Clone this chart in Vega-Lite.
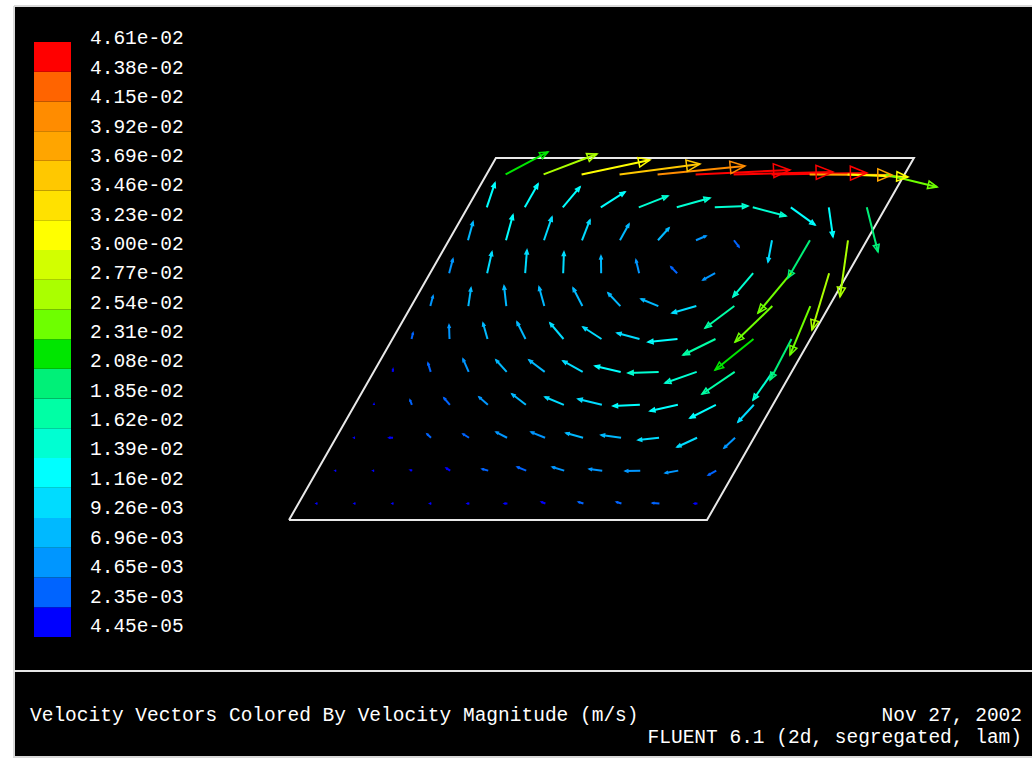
{
  "$schema": "https://vega.github.io/schema/vega-lite/v6.json",
  "width": 1018,
  "height": 752,
  "autosize": {"type": "none"},
  "padding": {"left": 14, "top": 6, "right": 0, "bottom": 1},
  "background": "#ffffff",
  "config": {"view": {"stroke": null, "fill": "#000000"}},
  "datasets": {
    "cavity": [
      {"cx": 0, "cy": 0, "k": 0},
      {"cx": 1, "cy": 0, "k": 1},
      {"cx": 1.495, "cy": 0.866, "k": 2},
      {"cx": 0.495, "cy": 0.866, "k": 3},
      {"cx": 0, "cy": 0, "k": 4}
    ],
    "bins": [
      {"lo":0.0000445,"hi":0.00235,"mid":0.0012},
      {"lo":0.00235,"hi":0.00465,"mid":0.0035},
      {"lo":0.00465,"hi":0.00696,"mid":0.0058},
      {"lo":0.00696,"hi":0.00926,"mid":0.0081},
      {"lo":0.00926,"hi":0.0116,"mid":0.0104},
      {"lo":0.0116,"hi":0.0139,"mid":0.0127},
      {"lo":0.0139,"hi":0.0162,"mid":0.0150},
      {"lo":0.0162,"hi":0.0185,"mid":0.0173},
      {"lo":0.0185,"hi":0.0208,"mid":0.0196},
      {"lo":0.0208,"hi":0.0231,"mid":0.0219},
      {"lo":0.0231,"hi":0.0254,"mid":0.0242},
      {"lo":0.0254,"hi":0.0277,"mid":0.0265},
      {"lo":0.0277,"hi":0.0300,"mid":0.0288},
      {"lo":0.0300,"hi":0.0323,"mid":0.0311},
      {"lo":0.0323,"hi":0.0346,"mid":0.0334},
      {"lo":0.0346,"hi":0.0369,"mid":0.0357},
      {"lo":0.0369,"hi":0.0392,"mid":0.0380},
      {"lo":0.0392,"hi":0.0415,"mid":0.0403},
      {"lo":0.0415,"hi":0.0438,"mid":0.0426},
      {"lo":0.0438,"hi":0.0461,"mid":0.0449}
    ],
    "ticks": [
      {"v":0.0000445,"lab":"4.45e-05"},
      {"v":0.00235,"lab":"2.35e-03"},
      {"v":0.00465,"lab":"4.65e-03"},
      {"v":0.00696,"lab":"6.96e-03"},
      {"v":0.00926,"lab":"9.26e-03"},
      {"v":0.0116,"lab":"1.16e-02"},
      {"v":0.0139,"lab":"1.39e-02"},
      {"v":0.0162,"lab":"1.62e-02"},
      {"v":0.0185,"lab":"1.85e-02"},
      {"v":0.0208,"lab":"2.08e-02"},
      {"v":0.0231,"lab":"2.31e-02"},
      {"v":0.0254,"lab":"2.54e-02"},
      {"v":0.0277,"lab":"2.77e-02"},
      {"v":0.0300,"lab":"3.00e-02"},
      {"v":0.0323,"lab":"3.23e-02"},
      {"v":0.0346,"lab":"3.46e-02"},
      {"v":0.0369,"lab":"3.69e-02"},
      {"v":0.0392,"lab":"3.92e-02"},
      {"v":0.0415,"lab":"4.15e-02"},
      {"v":0.0438,"lab":"4.38e-02"},
      {"v":0.0461,"lab":"4.61e-02"}
    ],
    "vectors": [
      {"x":0.5182,"y":0.8267,"hx":0.6196,"hy":0.8805,"mag":0.0220,"ang":-27.9},
      {"x":0.6091,"y":0.8267,"hx":0.7368,"hy":0.8757,"mag":0.0265,"ang":-21.0},
      {"x":0.7000,"y":0.8267,"hx":0.8636,"hy":0.8614,"mag":0.0310,"ang":-12.0},
      {"x":0.7909,"y":0.8267,"hx":0.9832,"hy":0.8518,"mag":0.0365,"ang":-7.4},
      {"x":0.8818,"y":0.8267,"hx":1.0909,"hy":0.8470,"mag":0.0400,"ang":-5.6},
      {"x":0.9728,"y":0.8267,"hx":1.1986,"hy":0.8375,"mag":0.0445,"ang":-2.7},
      {"x":1.0637,"y":0.8267,"hx":1.3015,"hy":0.8327,"mag":0.0458,"ang":-1.4},
      {"x":1.1546,"y":0.8267,"hx":1.3828,"hy":0.8303,"mag":0.0450,"ang":-0.9},
      {"x":1.2455,"y":0.8267,"hx":1.4426,"hy":0.8255,"mag":0.0385,"ang":0.3},
      {"x":1.3364,"y":0.8267,"hx":1.4809,"hy":0.8207,"mag":0.0305,"ang":2.4},
      {"x":1.4273,"y":0.8267,"hx":1.5503,"hy":0.7968,"mag":0.0245,"ang":13.7},

      {"x":0.4732,"y":0.7480,"hx":0.4928,"hy":0.8064,"mag":0.0117,"ang":-71.4},
      {"x":0.5641,"y":0.7480,"hx":0.5957,"hy":0.8040,"mag":0.0122,"ang":-60.6},
      {"x":0.6550,"y":0.7480,"hx":0.6961,"hy":0.7968,"mag":0.0121,"ang":-49.9},
      {"x":0.7459,"y":0.7480,"hx":0.8038,"hy":0.7848,"mag":0.0130,"ang":-32.5},
      {"x":0.8368,"y":0.7480,"hx":0.9066,"hy":0.7753,"mag":0.0142,"ang":-21.3},
      {"x":0.9277,"y":0.7480,"hx":1.0071,"hy":0.7705,"mag":0.0157,"ang":-15.8},
      {"x":1.0186,"y":0.7480,"hx":1.0980,"hy":0.7513,"mag":0.0151,"ang":-2.4},
      {"x":1.1095,"y":0.7480,"hx":1.1889,"hy":0.7274,"mag":0.0156,"ang":14.5},
      {"x":1.2005,"y":0.7480,"hx":1.2584,"hy":0.7059,"mag":0.0136,"ang":36.0},
      {"x":1.2914,"y":0.7480,"hx":1.3014,"hy":0.6772,"mag":0.0136,"ang":81.9},
      {"x":1.3823,"y":0.7480,"hx":1.4091,"hy":0.6413,"mag":0.0195,"ang":75.9},

      {"x":0.4282,"y":0.6692,"hx":0.4402,"hy":0.7130,"mag":0.0086,"ang":-74.7},
      {"x":0.5191,"y":0.6692,"hx":0.5358,"hy":0.7297,"mag":0.0120,"ang":-74.5},
      {"x":0.6100,"y":0.6692,"hx":0.6291,"hy":0.7249,"mag":0.0112,"ang":-71.1},
      {"x":0.7009,"y":0.6692,"hx":0.7200,"hy":0.7178,"mag":0.0099,"ang":-68.5},
      {"x":0.7918,"y":0.6692,"hx":0.8133,"hy":0.7082,"mag":0.0085,"ang":-61.1},
      {"x":0.8827,"y":0.6692,"hx":0.9090,"hy":0.6986,"mag":0.0075,"ang":-48.2},
      {"x":0.9736,"y":0.6692,"hx":0.9975,"hy":0.6795,"mag":0.0050,"ang":-23.3},
      {"x":1.0645,"y":0.6692,"hx":1.0765,"hy":0.6532,"mag":0.0038,"ang":53.3},
      {"x":1.1554,"y":0.6692,"hx":1.1458,"hy":0.6173,"mag":0.0100,"ang":100.4},
      {"x":1.2463,"y":0.6692,"hx":1.1937,"hy":0.5790,"mag":0.0198,"ang":120.3},
      {"x":1.3373,"y":0.6692,"hx":1.3182,"hy":0.5336,"mag":0.0260,"ang":98.0},

      {"x":0.3831,"y":0.5905,"hx":0.3922,"hy":0.6245,"mag":0.0067,"ang":-75.0},
      {"x":0.4740,"y":0.5905,"hx":0.4855,"hy":0.6412,"mag":0.0099,"ang":-77.2},
      {"x":0.5650,"y":0.5905,"hx":0.5693,"hy":0.6460,"mag":0.0106,"ang":-85.6},
      {"x":0.6559,"y":0.5905,"hx":0.6578,"hy":0.6412,"mag":0.0096,"ang":-87.8},
      {"x":0.7468,"y":0.5905,"hx":0.7463,"hy":0.6316,"mag":0.0078,"ang":-90.7},
      {"x":0.8377,"y":0.5905,"hx":0.8300,"hy":0.6221,"mag":0.0062,"ang":-103.6},
      {"x":0.9286,"y":0.5905,"hx":0.9138,"hy":0.6053,"mag":0.0040,"ang":-135.0},
      {"x":1.0195,"y":0.5905,"hx":0.9903,"hy":0.5742,"mag":0.0064,"ang":150.9},
      {"x":1.1104,"y":0.5905,"hx":1.0621,"hy":0.5336,"mag":0.0142,"ang":130.3},
      {"x":1.2013,"y":0.5905,"hx":1.1219,"hy":0.4953,"mag":0.0235,"ang":129.8},
      {"x":1.2922,"y":0.5905,"hx":1.2511,"hy":0.4546,"mag":0.0270,"ang":106.8},

      {"x":0.3381,"y":0.5118,"hx":0.3446,"hy":0.5360,"mag":0.0048,"ang":-75.0},
      {"x":0.4290,"y":0.5118,"hx":0.4355,"hy":0.5551,"mag":0.0083,"ang":-81.5},
      {"x":0.5199,"y":0.5118,"hx":0.5144,"hy":0.5599,"mag":0.0092,"ang":-96.5},
      {"x":0.6108,"y":0.5118,"hx":0.5981,"hy":0.5575,"mag":0.0090,"ang":-105.5},
      {"x":0.7018,"y":0.5118,"hx":0.6796,"hy":0.5551,"mag":0.0092,"ang":-117.2},
      {"x":0.7927,"y":0.5118,"hx":0.7633,"hy":0.5431,"mag":0.0082,"ang":-133.2},
      {"x":0.8836,"y":0.5118,"hx":0.8422,"hy":0.5288,"mag":0.0085,"ang":-157.7},
      {"x":0.9745,"y":0.5118,"hx":0.9164,"hy":0.4953,"mag":0.0115,"ang":164.1},
      {"x":1.0654,"y":0.5118,"hx":0.9953,"hy":0.4594,"mag":0.0166,"ang":143.2},
      {"x":1.1563,"y":0.5118,"hx":1.0671,"hy":0.4259,"mag":0.0235,"ang":136.1},
      {"x":1.2472,"y":0.5118,"hx":1.1986,"hy":0.3948,"mag":0.0240,"ang":112.5},

      {"x":0.2931,"y":0.4330,"hx":0.2967,"hy":0.4474,"mag":0.0028,"ang":-76.0},
      {"x":0.3840,"y":0.4330,"hx":0.3828,"hy":0.4665,"mag":0.0064,"ang":-92.0},
      {"x":0.4749,"y":0.4330,"hx":0.4641,"hy":0.4713,"mag":0.0075,"ang":-105.7},
      {"x":0.5658,"y":0.4330,"hx":0.5455,"hy":0.4737,"mag":0.0086,"ang":-116.6},
      {"x":0.6567,"y":0.4330,"hx":0.6244,"hy":0.4713,"mag":0.0095,"ang":-130.2},
      {"x":0.7476,"y":0.4330,"hx":0.7033,"hy":0.4617,"mag":0.0100,"ang":-147.0},
      {"x":0.8385,"y":0.4330,"hx":0.7847,"hy":0.4474,"mag":0.0106,"ang":-165.1},
      {"x":0.9294,"y":0.4330,"hx":0.8588,"hy":0.4258,"mag":0.0135,"ang":174.2},
      {"x":1.0204,"y":0.4330,"hx":0.9427,"hy":0.3947,"mag":0.0165,"ang":153.8},
      {"x":1.1113,"y":0.4330,"hx":1.0192,"hy":0.3588,"mag":0.0225,"ang":141.2},
      {"x":1.2022,"y":0.4330,"hx":1.1508,"hy":0.3349,"mag":0.0195,"ang":117.7},

      {"x":0.2481,"y":0.3543,"hx":0.2488,"hy":0.3612,"mag":0.0013,"ang":-84.0},
      {"x":0.3390,"y":0.3543,"hx":0.3325,"hy":0.3756,"mag":0.0042,"ang":-106.9},
      {"x":0.4299,"y":0.3543,"hx":0.4163,"hy":0.3852,"mag":0.0064,"ang":-113.8},
      {"x":0.5208,"y":0.3543,"hx":0.4952,"hy":0.3828,"mag":0.0073,"ang":-132.0},
      {"x":0.6117,"y":0.3543,"hx":0.5741,"hy":0.3828,"mag":0.0090,"ang":-142.8},
      {"x":0.7026,"y":0.3543,"hx":0.6555,"hy":0.3804,"mag":0.0102,"ang":-151.0},
      {"x":0.7935,"y":0.3543,"hx":0.7320,"hy":0.3684,"mag":0.0120,"ang":-167.1},
      {"x":0.8844,"y":0.3543,"hx":0.8110,"hy":0.3517,"mag":0.0140,"ang":178.0},
      {"x":0.9754,"y":0.3543,"hx":0.8996,"hy":0.3277,"mag":0.0153,"ang":160.7},
      {"x":1.0663,"y":0.3543,"hx":0.9881,"hy":0.3014,"mag":0.0180,"ang":146.0},
      {"x":1.1572,"y":0.3543,"hx":1.1101,"hy":0.2871,"mag":0.0156,"ang":125.0},

      {"x":0.2030,"y":0.2756,"hx":0.2032,"hy":0.2775,"mag":0.0005,"ang":-83.0},
      {"x":0.2940,"y":0.2756,"hx":0.2895,"hy":0.2871,"mag":0.0024,"ang":-111.6},
      {"x":0.3849,"y":0.2756,"hx":0.3708,"hy":0.2919,"mag":0.0041,"ang":-131.0},
      {"x":0.4758,"y":0.2756,"hx":0.4545,"hy":0.2943,"mag":0.0054,"ang":-138.8},
      {"x":0.5667,"y":0.2756,"hx":0.5334,"hy":0.3014,"mag":0.0080,"ang":-142.2},
      {"x":0.6576,"y":0.2756,"hx":0.6124,"hy":0.2943,"mag":0.0093,"ang":-157.6},
      {"x":0.7485,"y":0.2756,"hx":0.6913,"hy":0.2895,"mag":0.0112,"ang":-166.4},
      {"x":0.8394,"y":0.2756,"hx":0.7751,"hy":0.2727,"mag":0.0122,"ang":177.4},
      {"x":0.9303,"y":0.2756,"hx":0.8636,"hy":0.2608,"mag":0.0130,"ang":167.5},
      {"x":1.0212,"y":0.2756,"hx":0.9592,"hy":0.2440,"mag":0.0132,"ang":153.0},
      {"x":1.1121,"y":0.2756,"hx":1.0741,"hy":0.2345,"mag":0.0106,"ang":132.8},

      {"x":0.1580,"y":0.1968,"hx":0.1556,"hy":0.1968,"mag":0.0005,"ang":180},
      {"x":0.2489,"y":0.1968,"hx":0.2393,"hy":0.1968,"mag":0.0018,"ang":180},
      {"x":0.3398,"y":0.1968,"hx":0.3302,"hy":0.2057,"mag":0.0025,"ang":-137.2},
      {"x":0.4307,"y":0.1968,"hx":0.4163,"hy":0.2057,"mag":0.0032,"ang":-148.3},
      {"x":0.5217,"y":0.1968,"hx":0.4954,"hy":0.2104,"mag":0.0056,"ang":-152.6},
      {"x":0.6126,"y":0.1968,"hx":0.5791,"hy":0.2104,"mag":0.0069,"ang":-157.8},
      {"x":0.7035,"y":0.1968,"hx":0.6628,"hy":0.2080,"mag":0.0080,"ang":-164.5},
      {"x":0.7944,"y":0.1968,"hx":0.7466,"hy":0.2033,"mag":0.0092,"ang":-172.3},
      {"x":0.8853,"y":0.1968,"hx":0.8351,"hy":0.1913,"mag":0.0096,"ang":173.8},
      {"x":0.9762,"y":0.1968,"hx":0.9284,"hy":0.1746,"mag":0.0100,"ang":155.1},
      {"x":1.0671,"y":0.1968,"hx":1.0408,"hy":0.1722,"mag":0.0069,"ang":136.9},

      {"x":0.1130,"y":0.1181,"hx":0.1106,"hy":0.1181,"mag":0.0003,"ang":180},
      {"x":0.2039,"y":0.1181,"hx":0.2010,"hy":0.1181,"mag":0.0005,"ang":180},
      {"x":0.2948,"y":0.1181,"hx":0.2900,"hy":0.1195,"mag":0.0009,"ang":-163},
      {"x":0.3857,"y":0.1181,"hx":0.3761,"hy":0.1243,"mag":0.0022,"ang":-147},
      {"x":0.4766,"y":0.1181,"hx":0.4622,"hy":0.1219,"mag":0.0028,"ang":-165},
      {"x":0.5675,"y":0.1181,"hx":0.5460,"hy":0.1267,"mag":0.0044,"ang":-158.2},
      {"x":0.6584,"y":0.1181,"hx":0.6297,"hy":0.1267,"mag":0.0057,"ang":-163.3},
      {"x":0.7494,"y":0.1181,"hx":0.7183,"hy":0.1219,"mag":0.0060,"ang":-173},
      {"x":0.8403,"y":0.1181,"hx":0.8044,"hy":0.1171,"mag":0.0068,"ang":178.5},
      {"x":0.9312,"y":0.1181,"hx":0.9001,"hy":0.1124,"mag":0.0060,"ang":169.5},
      {"x":1.0221,"y":0.1181,"hx":1.0030,"hy":0.1076,"mag":0.0041,"ang":151.2},

      {"x":0.0680,"y":0.0394,"hx":0.0656,"hy":0.0394,"mag":0.0002,"ang":180},
      {"x":0.1589,"y":0.0394,"hx":0.1565,"hy":0.0394,"mag":0.0003,"ang":180},
      {"x":0.2498,"y":0.0394,"hx":0.2474,"hy":0.0394,"mag":0.0004,"ang":180},
      {"x":0.3407,"y":0.0394,"hx":0.3371,"hy":0.0394,"mag":0.0006,"ang":180},
      {"x":0.4316,"y":0.0394,"hx":0.4268,"hy":0.0394,"mag":0.0009,"ang":180},
      {"x":0.5225,"y":0.0394,"hx":0.5153,"hy":0.0394,"mag":0.0013,"ang":180},
      {"x":0.6134,"y":0.0394,"hx":0.6038,"hy":0.0430,"mag":0.0019,"ang":-159.4},
      {"x":0.7044,"y":0.0394,"hx":0.6924,"hy":0.0430,"mag":0.0024,"ang":-163},
      {"x":0.7953,"y":0.0394,"hx":0.7833,"hy":0.0430,"mag":0.0024,"ang":-163},
      {"x":0.8862,"y":0.0394,"hx":0.8695,"hy":0.0406,"mag":0.0032,"ang":-176},
      {"x":0.9771,"y":0.0394,"hx":0.9699,"hy":0.0394,"mag":0.0014,"ang":180}
    ]
  },
  "resolve": {"scale": {"y": "independent"}},
  "layer": [
    {
      "layer": [
        {
          "data": {"values": [{}]},
          "mark": {"type": "rule", "stroke": "#d9d9d9", "strokeWidth": 2},
          "encoding": {"x": {"datum": -0.657895, "type": "quantitative", "scale": {"domain": [-0.657895, 1.777512], "nice": false, "zero": false}, "axis": null}}
        },
        {
          "data": {"values": [{}]},
          "mark": {"type": "rule", "stroke": "#d9d9d9", "strokeWidth": 2},
          "encoding": {"y": {"datum": 1.229665, "type": "quantitative", "scale": {"domain": [-0.569378, 1.229665], "nice": false, "zero": false}, "axis": null}}
        },
        {
          "data": {"values": [{}]},
          "mark": {"type": "rule", "stroke": "#d9d9d9", "strokeWidth": 2},
          "encoding": {"y": {"datum": -0.566986, "type": "quantitative", "scale": {"domain": [-0.569378, 1.229665], "nice": false, "zero": false}, "axis": null}}
        },
        {
          "data": {"values": [{}]},
          "mark": {"type": "rule", "stroke": "#e6e6e6", "strokeWidth": 2},
          "encoding": {"y": {"datum": -0.361244, "type": "quantitative", "scale": {"domain": [-0.569378, 1.229665], "nice": false, "zero": false}, "axis": null}}
        },
        {
          "data": {"name": "cavity"},
          "mark": {"type": "line", "stroke": "#e8e8e8", "strokeWidth": 2},
          "encoding": {
            "x": {"field": "cx", "type": "quantitative", "scale": {"domain": [-0.657895, 1.777512], "nice": false, "zero": false}, "axis": null},
            "y": {"field": "cy", "type": "quantitative", "scale": {"domain": [-0.569378, 1.229665], "nice": false, "zero": false}, "axis": null},
            "order": {"field": "k", "type": "quantitative"}
          }
        },
        {
          "data": {"name": "vectors"},
          "encoding": {
            "color": {
              "field": "mag",
              "type": "quantitative",
              "scale": {
                "type": "quantize",
                "domain": [0.0000445, 0.0461],
                "range": ["#0000ff","#0064ff","#0096ff","#00b9ff","#00dcff","#00ffff","#00ffd2","#00ffa5","#00f078","#00e600","#6eff00","#aaff00","#d2ff00","#ffff00","#ffe100","#ffc800","#ffa500","#ff8c00","#ff6400","#ff0000"]
              },
              "legend": null
            }
          },
          "layer": [
            {
              "mark": {"type": "rule", "strokeWidth": 2},
              "encoding": {
                "x": {"field": "x", "type": "quantitative", "scale": {"domain": [-0.657895, 1.777512], "nice": false, "zero": false}, "axis": null},
                "y": {"field": "y", "type": "quantitative", "scale": {"domain": [-0.569378, 1.229665], "nice": false, "zero": false}, "axis": null},
                "x2": {"field": "hx"},
                "y2": {"field": "hy"}
              }
            },
            {
              "mark": {"type": "point", "shape": "M0,0L-1,-0.42L-1,0.42Z", "filled": false, "strokeWidth": 1.5, "opacity": 1},
              "encoding": {
                "x": {"field": "hx", "type": "quantitative", "scale": {"domain": [-0.657895, 1.777512], "nice": false, "zero": false}, "axis": null},
                "y": {"field": "hy", "type": "quantitative", "scale": {"domain": [-0.569378, 1.229665], "nice": false, "zero": false}, "axis": null},
                "angle": {"field": "ang", "type": "quantitative", "scale": null},
                "size": {"field": "mag", "type": "quantitative", "scale": {"type": "pow", "exponent": 2, "domain": [0, 0.0461], "range": [0, 1160]}, "legend": null}
              }
            }
          ]
        },
        {
          "data": {"values": [{}]},
          "mark": {"type": "text", "text": "Velocity Vectors Colored By Velocity Magnitude (m/s)", "align": "left", "baseline": "middle", "font": "Liberation Mono", "fontSize": 19.5, "color": "#ffffff"},
          "encoding": {
            "x": {"datum": -0.619617, "type": "quantitative", "scale": {"domain": [-0.657895, 1.777512], "nice": false, "zero": false}, "axis": null},
            "y": {"datum": -0.466507, "type": "quantitative", "scale": {"domain": [-0.569378, 1.229665], "nice": false, "zero": false}, "axis": null}
          }
        },
        {
          "data": {"values": [{}]},
          "mark": {"type": "text", "text": "Nov 27, 2002", "align": "right", "baseline": "middle", "font": "Liberation Mono", "fontSize": 19.5, "color": "#ffffff"},
          "encoding": {
            "x": {"datum": 1.753589, "type": "quantitative", "scale": {"domain": [-0.657895, 1.777512], "nice": false, "zero": false}, "axis": null},
            "y": {"datum": -0.466507, "type": "quantitative", "scale": {"domain": [-0.569378, 1.229665], "nice": false, "zero": false}, "axis": null}
          }
        },
        {
          "data": {"values": [{}]},
          "mark": {"type": "text", "text": "FLUENT 6.1 (2d, segregated, lam)", "align": "right", "baseline": "middle", "font": "Liberation Mono", "fontSize": 19.5, "color": "#ffffff"},
          "encoding": {
            "x": {"datum": 1.753589, "type": "quantitative", "scale": {"domain": [-0.657895, 1.777512], "nice": false, "zero": false}, "axis": null},
            "y": {"datum": -0.519139, "type": "quantitative", "scale": {"domain": [-0.569378, 1.229665], "nice": false, "zero": false}, "axis": null}
          }
        }
      ]
    },
    {
      "data": {"name": "bins"},
      "mark": {"type": "rect", "strokeWidth": 0},
      "encoding": {
        "x": {"datum": -0.610048, "type": "quantitative", "scale": {"domain": [-0.657895, 1.777512], "nice": false, "zero": false}, "axis": null},
        "x2": {"datum": -0.521531},
        "y": {"field": "lo", "type": "quantitative", "scale": {"domain": [-0.0093214, 0.0488865], "nice": false, "zero": false}, "axis": null},
        "y2": {"field": "hi"},
        "fill": {
          "field": "mid",
          "type": "quantitative",
          "scale": {
            "type": "quantize",
            "domain": [0.0000445, 0.0461],
            "range": ["#0000ff","#0064ff","#0096ff","#00b9ff","#00dcff","#00ffff","#00ffd2","#00ffa5","#00f078","#00e600","#6eff00","#aaff00","#d2ff00","#ffff00","#ffe100","#ffc800","#ffa500","#ff8c00","#ff6400","#ff0000"]
          },
          "legend": null
        }
      }
    },
    {
      "data": {"name": "ticks"},
      "mark": {"type": "text", "align": "left", "baseline": "middle", "font": "Liberation Mono", "fontSize": 19.5, "color": "#ffffff"},
      "encoding": {
        "x": {"datum": -0.476077, "type": "quantitative", "scale": {"domain": [-0.657895, 1.777512], "nice": false, "zero": false}, "axis": null},
        "y": {"field": "v", "type": "quantitative", "scale": {"domain": [-0.0103032, 0.0486477], "nice": false, "zero": false}, "axis": null},
        "text": {"field": "lab", "type": "nominal"}
      }
    }
  ]
}
